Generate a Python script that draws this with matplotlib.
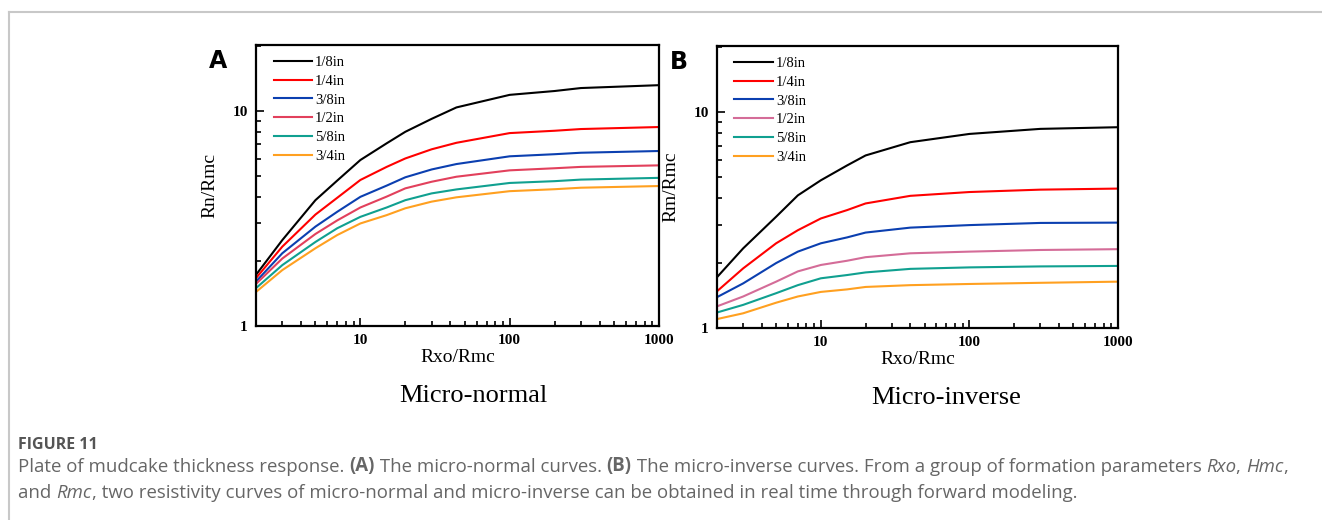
import matplotlib
matplotlib.use("Agg")
import matplotlib.pyplot as plt
from matplotlib.lines import Line2D
from matplotlib.text import Annotation
from matplotlib.ticker import LogLocator, FixedLocator, NullFormatter

labels = ["1/8in", "1/4in", "3/8in", "1/2in", "5/8in", "3/4in"]

# (A) micro-normal
rxo_a = [2, 3, 5, 7, 10, 15, 20, 30, 44, 100, 200, 300, 1000]
normal_18 = [1.73, 2.51, 3.85, 4.75, 5.92, 7.08, 8.01, 9.20, 10.4, 11.9, 12.4, 12.8, 13.2]
normal_14 = [1.67, 2.34, 3.30, 3.95, 4.78, 5.50, 6.02, 6.64, 7.12, 7.90, 8.10, 8.25, 8.43]
normal_38 = [1.61, 2.18, 2.90, 3.40, 3.99, 4.50, 4.92, 5.35, 5.67, 6.16, 6.30, 6.40, 6.52]
normal_12 = [1.57, 2.06, 2.68, 3.10, 3.56, 4.00, 4.37, 4.69, 4.95, 5.30, 5.42, 5.50, 5.59]
normal_58 = [1.50, 1.92, 2.46, 2.85, 3.22, 3.56, 3.85, 4.14, 4.32, 4.63, 4.72, 4.80, 4.89]
normal_34 = [1.44, 1.82, 2.30, 2.65, 3.00, 3.28, 3.53, 3.79, 3.97, 4.24, 4.33, 4.40, 4.48]

# (B) micro-inverse
rxo_b = [2, 3, 5, 7, 10, 15, 20, 40, 100, 300, 1000]
inverse_18 = [1.72, 2.34, 3.28, 4.12, 4.84, 5.67, 6.31, 7.27, 7.94, 8.38, 8.53]
inverse_14 = [1.48, 1.89, 2.47, 2.84, 3.22, 3.52, 3.78, 4.10, 4.27, 4.38, 4.43]
inverse_38 = [1.39, 1.61, 2.00, 2.26, 2.47, 2.63, 2.77, 2.92, 3.00, 3.07, 3.08]
inverse_12 = [1.26, 1.40, 1.64, 1.83, 1.96, 2.05, 2.13, 2.22, 2.26, 2.30, 2.32]
inverse_58 = [1.18, 1.28, 1.45, 1.58, 1.70, 1.76, 1.81, 1.88, 1.91, 1.93, 1.94]
inverse_34 = [1.10, 1.17, 1.31, 1.40, 1.47, 1.51, 1.55, 1.58, 1.60, 1.62, 1.64]

normal = [normal_18, normal_14, normal_38, normal_12, normal_58, normal_34]
inverse = [inverse_18, inverse_14, inverse_38, inverse_12, inverse_58, inverse_34]

colors_a = ["#000000", "#ff0000", "#0b3fb0", "#e2405c", "#10a090", "#ffa020"]
colors_b = ["#000000", "#ff0000", "#0b3fb0", "#d46c98", "#10a090", "#ffa020"]

serif = "Liberation Serif"

fig = plt.figure(figsize=(13.22, 5.2), dpi=100)

# page frame lines (top and left)
fig.add_artist(Line2D([9 / 1322, 1], [1 - 12 / 520, 1 - 12 / 520], color="#c8c8c8", lw=1.5))
fig.add_artist(Line2D([9 / 1322, 9 / 1322], [0, 1 - 12 / 520], color="#c8c8c8", lw=1.5))


def panel(rect, x, data, colors, ylabel, letter):
    ax = fig.add_axes(rect)
    for vals, c, lab in zip(data, colors, labels):
        ax.plot(x, vals, color=c, lw=1.5, label=lab)
    ax.set_xscale("log")
    ax.set_yscale("log")
    ax.set_xlim(2, 1000)
    ax.set_ylim(1, 20.3)
    ax.xaxis.set_major_locator(FixedLocator([10, 100, 1000]))
    ax.yaxis.set_major_locator(FixedLocator([1, 10]))
    ax.xaxis.set_minor_locator(LogLocator(base=10, subs=range(2, 10)))
    ax.yaxis.set_minor_locator(LogLocator(base=10, subs=range(2, 10)))
    ax.yaxis.set_minor_formatter(NullFormatter())
    ax.xaxis.set_minor_formatter(NullFormatter())
    ax.set_xticklabels(["10", "100", "1000"])
    ax.set_yticklabels(["1", "10"])
    ax.tick_params(which="both", direction="in", top=False, right=False, width=1.2)
    ax.tick_params(which="major", length=6, pad=6)
    ax.tick_params(which="minor", length=3.5)
    for t in ax.get_xticklabels() + ax.get_yticklabels():
        t.set_fontfamily(serif)
        t.set_fontweight("bold")
        t.set_fontsize(11)
    for s in ax.spines.values():
        s.set_linewidth(1.6)
    ax.set_xlabel("Rxo/Rmc", family=serif, fontsize=14, labelpad=1)
    ax.set_ylabel(ylabel, family=serif, fontsize=14, labelpad=10)
    ax.legend(loc="upper left", frameon=False, prop={"family": serif, "size": 10.5},
              handlelength=2.65, handletextpad=0.2, labelspacing=0.38,
              borderaxespad=0.25, bbox_to_anchor=(0.02, 0.995))
    ax.text(-0.118, 0.985, letter, transform=ax.transAxes, fontsize=17,
            fontweight="bold", family="DejaVu Sans", va="top", ha="left")
    return ax


panel([256 / 1322, 1 - 326 / 520, 403 / 1322, 281 / 520], rxo_a, normal, colors_a,
      "Rn/Rmc", "A")
panel([717 / 1322, 1 - 328 / 520, 401 / 1322, 282 / 520], rxo_b, inverse, colors_b,
      "Rm/Rmc", "B")

fig.text(473 / 1322, 1 - 396 / 520, "Micro-normal", fontsize=19, family=serif,
         ha="center", va="center")
fig.text(946 / 1322, 1 - 398 / 520, "Micro-inverse", fontsize=19, family=serif,
         ha="center", va="center")

# caption
cap_font = "Open Sans"
fig.text(18 / 1322, 1 - 449 / 520, "FIGURE 11", fontsize=11.5, fontweight="bold",
         color="#555555", family=cap_font, va="baseline")


def chain(pieces, x, y):
    prev = None
    for txt, style, weight in pieces:
        kw = dict(fontsize=13.4, color="#666666", family=cap_font, style=style,
                  fontweight=weight)
        if prev is None:
            prev = fig.text(x, y, txt, va="bottom", **kw)
        else:
            prev = fig.add_artist(Annotation(txt, xy=(1, 0), xycoords=prev,
                                             va="bottom", **kw))


chain([("Plate of mudcake thickness response. ", "normal", "normal"),
       ("(A)", "normal", "bold"),
       (" The micro-normal curves. ", "normal", "normal"),
       ("(B)", "normal", "bold"),
       (" The micro-inverse curves. From a group of formation parameters ", "normal", "normal"),
       ("Rxo", "italic", "normal"),
       (", ", "normal", "normal"),
       ("Hmc", "italic", "normal"),
       (",", "normal", "normal")], 18 / 1322, 1 - 476 / 520)
chain([("and ", "normal", "normal"),
       ("Rmc", "italic", "normal"),
       (", two resistivity curves of micro-normal and micro-inverse can be obtained in real time through forward modeling.",
        "normal", "normal")], 18 / 1322, 1 - 502 / 520)

fig.savefig("out.png", dpi=100)
